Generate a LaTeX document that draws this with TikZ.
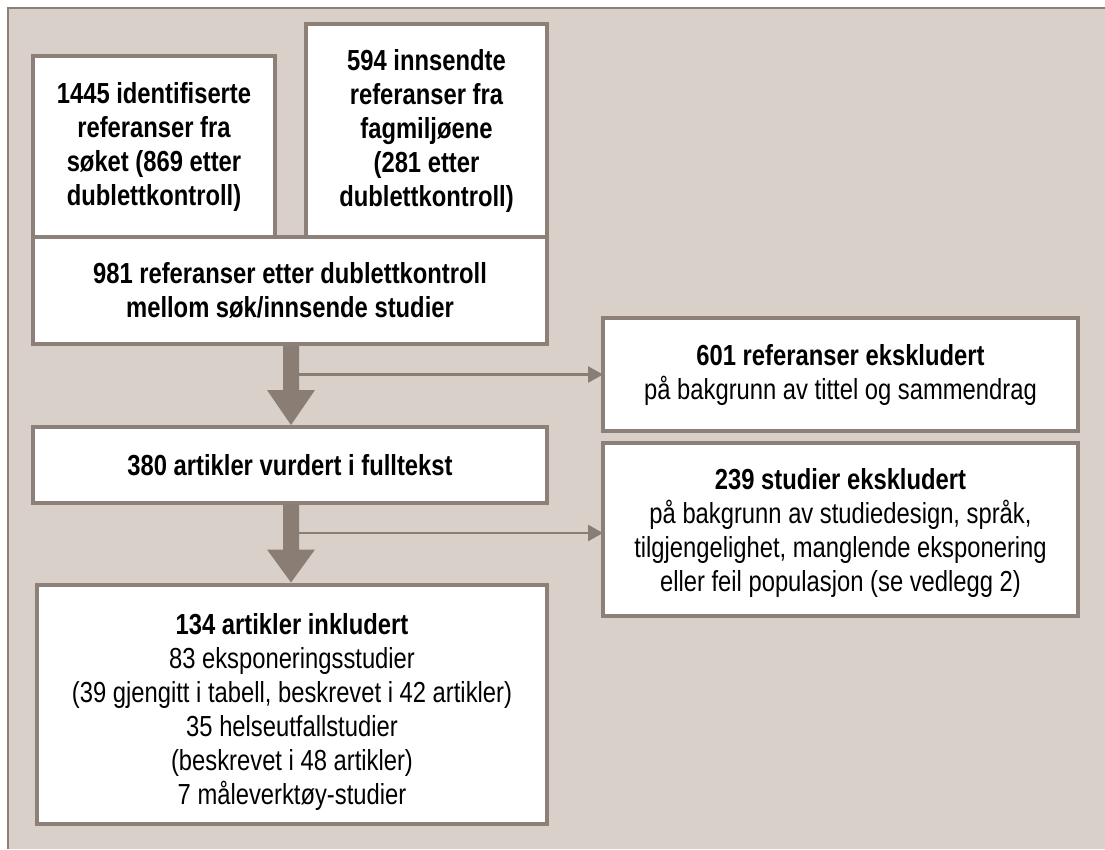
\documentclass[tikz,border=0pt]{standalone}
\usepackage{fontspec}
\setmainfont{Liberation Sans}[FakeStretch=0.82]
\usetikzlibrary{calc,arrows.meta}
\definecolor{bgbeige}{HTML}{D9D0CA}
\definecolor{framegray}{HTML}{8C8079}
\definecolor{arrowgray}{HTML}{8A7D74}
\tikzset{
  flowbox/.style={draw=framegray, line width=3.4pt, fill=white, align=center,
    inner sep=0pt, outer sep=0pt, font=\fontsize{29}{34}\selectfont, text=black},
  thinarrow/.style={draw=arrowgray, line width=2.6pt, -{Triangle[length=15pt,width=16pt]}},
  thickarrow/.style={fill=arrowgray}
}
\begin{document}
\begin{tikzpicture}[x=1pt,y=-1pt]
\useasboundingbox (0,0) rectangle (1105,849);
\fill[white] (0,0) rectangle (1105,849);
\fill[bgbeige] (8,8) rectangle (1105,849);
\draw[framegray, line width=2pt] (8,849) -- (8,8) -- (1105,8);

\node[flowbox, minimum width=242pt, minimum height=181pt] (A) at (154,146.5)
  {\bfseries 1445 identifiserte\\\bfseries referanser fra\\\bfseries søket (869 etter\\\bfseries dublettkontroll)};
\node[flowbox, minimum width=241pt, minimum height=213pt] (B) at (426.5,130.5)
  {\bfseries 594 innsendte\\\bfseries referanser fra\\\bfseries fagmiljøene\\\bfseries (281 etter\\\bfseries dublettkontroll)};
\node[flowbox, minimum width=514pt, minimum height=107pt] (C) at (290,290.5)
  {\bfseries 981 referanser etter dublettkontroll\\\bfseries mellom søk/innsende studier};
\node[flowbox, minimum width=475pt, minimum height=113pt] (D) at (840.5,374.5)
  {\bfseries 601 referanser ekskludert\\på bakgrunn av tittel og sammendrag};
\node[flowbox, minimum width=514pt, minimum height=76pt] (E) at (290,465)
  {\bfseries 380 artikler vurdert i fulltekst};
\node[flowbox, minimum width=475pt, minimum height=173pt] (F) at (840.5,529.5)
  {\rule{0pt}{27pt}\bfseries 239 studier ekskludert\\på bakgrunn av studiedesign, språk,\\tilgjengelighet, manglende eksponering\\eller feil populasjon (se vedlegg 2)};
\node[flowbox, minimum width=510pt, minimum height=239pt] (G) at (292,704.5)
  {\rule{0pt}{35pt}\bfseries 134 artikler inkludert\\83 eksponeringsstudier\\(39 gjengitt i tabell, beskrevet i 42 artikler)\\35 helseutfallstudier\\(beskrevet i 48 artikler)\\7 måleverktøy-studier};

% thick arrow C -> E
\coordinate (t1) at ($(C.south)+(1,1.5)$);
\coordinate (h1) at ($(E.north)+(1,-2)$);
\fill[thickarrow] ($(t1)+(-8,0)$) -- ($(t1)+(8,0)$) -- ($(h1)+(8,-35)$) -- ($(h1)+(24,-35)$)
  -- (h1) -- ($(h1)+(-24,-35)$) -- ($(h1)+(-8,-35)$) -- cycle;
% thin arrow to D
\coordinate (s1) at ($(t1)+(8,0)$);
\draw[thinarrow] (s1 |- D.west) -- (D.west);

% thick arrow E -> G
\coordinate (t2) at ($(E.south)+(1,1.5)$);
\coordinate (h2) at ($(G.north)+(-1,-2.5)$);
\fill[thickarrow] ($(t2)+(-8,0)$) -- ($(t2)+(8,0)$) -- ($(h2)+(8,-33)$) -- ($(h2)+(24,-33)$)
  -- (h2) -- ($(h2)+(-24,-33)$) -- ($(h2)+(-8,-33)$) -- cycle;
% thin arrow to F
\coordinate (s2) at ($(t2)+(8,0)$);
\coordinate (f2) at ($(F.west)+(0,3.5)$);
\draw[thinarrow] (s2 |- f2) -- (f2);
\end{tikzpicture}
\end{document}
